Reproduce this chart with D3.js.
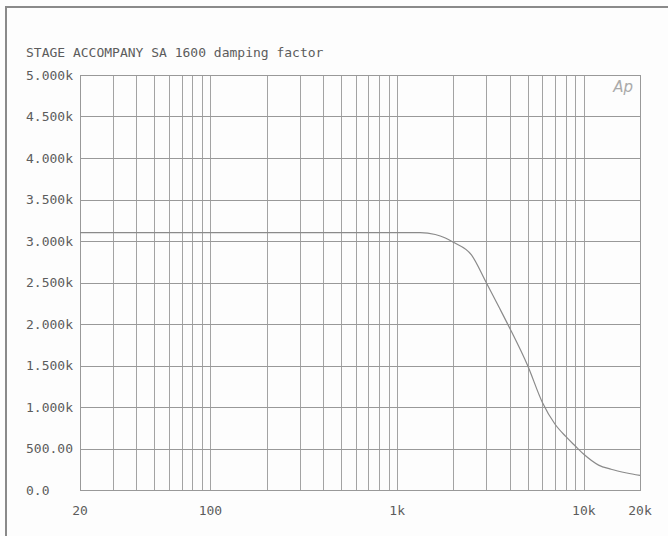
<!DOCTYPE html>
<html>
<head>
<meta charset="utf-8">
<script src="https://cdn.jsdelivr.net/npm/d3@7"></script>
<style>
  html, body { margin: 0; padding: 0; background: #fdfdfd; }
  svg { display: block; }
  text { font-family: "DejaVu Sans Mono", "Liberation Mono", monospace; fill: #5c5c5c; }
</style>
</head>
<body>
<svg id="chart" width="668" height="536"></svg>
<script>
// ---- data ----
const title = "STAGE ACCOMPANY SA 1600 damping factor";
const freqs = [20, 50, 100, 200, 500, 1000, 1330, 1600, 1800, 2000, 2500, 3000, 3500, 4000, 5000, 6000, 7000, 8000, 9000, 10000, 12000, 14000, 17000, 20000];
const damping = [3100, 3100, 3100, 3100, 3100, 3100, 3100, 3078, 3040, 2985, 2833, 2500, 2210, 1955, 1500, 1055, 795, 645, 530, 430, 300, 250, 205, 175];
const xTickValues = [20, 100, 1000, 10000, 20000];
const xTickLabels = ["20", "100", "1k", "10k", "20k"];
const yTickValues = [0, 500, 1000, 1500, 2000, 2500, 3000, 3500, 4000, 4500, 5000];
const yTickLabels = ["0.0", "500.00", "1.000k", "1.500k", "2.000k", "2.500k", "3.000k", "3.500k", "4.000k", "4.500k", "5.000k"];
const xGridValues = [20,30,40,50,60,70,80,90,100,200,300,400,500,600,700,800,900,1000,2000,3000,4000,5000,6000,7000,8000,9000,10000,20000];

// ---- layout ----
const svg = d3.select("#chart");
const mLeft = 80, mRight = 640, mTop = 75, mBottom = 490;

const x = d3.scaleLog().domain([20, 20000]).range([mLeft, mRight]);
const y = d3.scaleLinear().domain([0, 5000]).range([mBottom, mTop]);

// outer frame (scanned page border)
svg.append("line").attr("x1", 6).attr("x2", 6).attr("y1", 7).attr("y2", 536)
  .attr("stroke", "#8a8a8a").attr("stroke-width", 2);
svg.append("line").attr("x1", 5).attr("x2", 668).attr("y1", 7).attr("y2", 7)
  .attr("stroke", "#8a8a8a").attr("stroke-width", 2);

// title
svg.append("text").attr("x", 26).attr("y", 57).attr("font-size", 13).text(title);

// vertical grid
svg.append("g").selectAll("line").data(xGridValues).join("line")
  .attr("x1", d => Math.round(x(d)) + 0.5).attr("x2", d => Math.round(x(d)) + 0.5)
  .attr("y1", mTop).attr("y2", mBottom)
  .attr("stroke", "#a3a3a3").attr("stroke-width", 1);

// horizontal grid
svg.append("g").selectAll("line").data(yTickValues).join("line")
  .attr("x1", mLeft).attr("x2", mRight)
  .attr("y1", d => Math.round(y(d)) + 0.5).attr("y2", d => Math.round(y(d)) + 0.5)
  .attr("stroke", "#999").attr("stroke-width", 1);

// frame
svg.append("rect").attr("x", mLeft + 0.5).attr("y", mTop + 0.5)
  .attr("width", mRight - mLeft).attr("height", mBottom - mTop)
  .attr("fill", "none").attr("stroke", "#999").attr("stroke-width", 1);

// y labels
svg.append("g").selectAll("text").data(yTickValues).join("text")
  .attr("x", 26).attr("y", d => y(d)).attr("dy", "0.35em")
  .attr("font-size", 13)
  .text((d, i) => yTickLabels[i]);

// x labels
svg.append("g").selectAll("text").data(xTickValues).join("text")
  .attr("x", d => x(d)).attr("y", 510).attr("dy", "0.35em")
  .attr("text-anchor", "middle").attr("font-size", 13)
  .text((d, i) => xTickLabels[i]);

// Ap logo
svg.append("text").attr("x", 633).attr("y", 92).attr("text-anchor", "end")
  .attr("font-style", "italic")
  .attr("font-size", 15).style("font-family", "DejaVu Sans, sans-serif").style("fill", "#aaa").text("Ap");

// curve
const line = d3.line()
  .x((d, i) => x(freqs[i]))
  .y(d => y(d))
  .curve(d3.curveMonotoneX);
svg.append("path").datum(damping)
  .attr("d", line)
  .attr("fill", "none").attr("stroke", "#8a8a8a").attr("stroke-width", 1.2);
</script>
</body>
</html>
